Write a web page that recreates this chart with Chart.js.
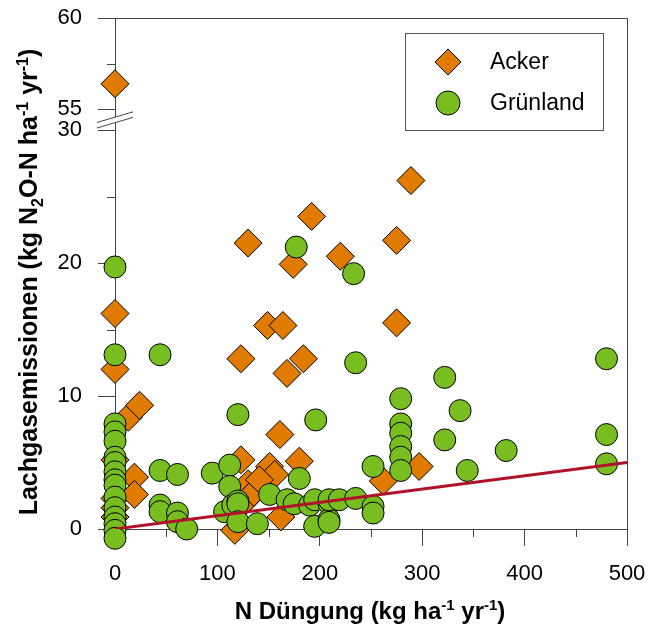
<!DOCTYPE html>
<html>
<head>
<meta charset="utf-8">
<script src="https://cdn.jsdelivr.net/npm/chart.js@4.4.0/dist/chart.umd.min.js"></script>
<style>
    html, body { margin: 0; padding: 0; background: #ffffff; }
</style>
</head>
<body>
<canvas id="lachgasChart" width="652" height="628"></canvas>
<script>
// Acker (Rauten), unterer Achsenabschnitt 0-30
const ackerX = [0, 0, 0, 0, 0, 0, 13, 24, 19, 19,
    130, 192, 174, 220, 275, 289,
    149, 164, 275, 123, 184, 168,
    161, 123, 180, 151, 156, 130, 135, 141, 162, 117, 297, 262, 131, 122];
const ackerY = [16.2, 12.0, 5.2, 2.3, 1.6, 0.9, 8.4, 9.3, 3.9, 2.6,
    21.5, 23.5, 19.9, 20.5, 21.7, 26.2,
    15.3, 15.3, 15.5, 12.8, 12.8, 11.7,
    7.1, 5.2, 5.1, 4.7, 4.1, 3.4, 2.7, 3.7, 0.9, -0.1, 4.7, 3.6, 2.4, 1.7];

// Acker, oberer Achsenabschnitt 55-60
const ackerObenX = [0];
const ackerObenY = [56.4];

// Grünland (Kreise)
const gruenlandX = [0, 0, 0, 0, 0, 0, 0, 0, 0, 0, 0, 0, 0, 0, 0, 0,
    44, 44, 44, 44, 61, 61, 61, 70, 95, 107, 112, 112, 115,
    120, 120, 120, 120, 139, 151, 168, 175, 177, 180, 190, 195, 195, 196,
    209, 209, 209, 209, 219, 233, 235, 235, 252, 252, 252,
    279, 279, 279, 279, 279, 279, 322, 322, 337, 344, 382, 480, 480, 480];
const gruenlandY = [19.7, 13.1, 7.9, 7.3, 6.6, 5.4, 5.0, 4.3, 3.7, 3.3, 2.4, 1.6, 0.9, 0.4, -0.1, -0.7,
    13.1, 4.4, 1.8, 1.3, 4.1, 1.2, 0.55, 0.0, 4.2, 1.3, 4.8, 3.2, 1.8,
    8.6, 2.1, 1.9, 0.55, 0.4, 2.6, 2.2, 1.9, 21.2, 3.8, 1.8, 2.2, 0.2, 8.2,
    1.9, 0.7, 0.5, 2.2, 2.2, 19.2, 12.5, 2.3, 4.7, 1.7, 1.2,
    9.8, 7.9, 7.2, 6.2, 5.4, 4.4, 11.4, 6.7, 8.9, 4.4, 5.9, 12.8, 7.1, 4.9];

// Regressionsgerade
const trendX = [0, 500];
const trendY = [0, 5];

// Achsenbeschriftung
const xTicks = [0, 100, 200, 300, 400, 500];
const xMinorTicks = [50, 150, 250, 350, 450];
const yTicksUnten = [0, 10, 20, 30];
const yMinorUnten = [5, 15, 25];
const yTicksOben = [55, 60];
const yMinorOben = [57.5];

const farbeAcker = '#e07b00';
const farbeGruen = '#78be20';
const farbeTrend = '#b0122a';
const farbeAchse = '#444444';
const schrift = "'Liberation Sans', Arial, sans-serif";

const punkte = (xs, ys) => xs.map((x, i) => ({ x: x, y: ys[i] }));

// Skalen sollen den Plotbereich nicht zusätzlich einrücken
function ohnePadding(s) {
    s.paddingTop = 0;
    s.paddingBottom = 0;
    s.paddingLeft = 0;
    s.paddingRight = 0;
}

// Text mit Hoch-/Tiefstellung zeichnen
function zeichneText(ctx, teile, x, y, groesse) {
    const klein = Math.round(groesse * 0.62);
    let breite = 0;
    teile.forEach(t => {
        ctx.font = 'bold ' + (t[1] ? klein : groesse) + 'px ' + schrift;
        breite += ctx.measureText(t[0]).width;
    });
    let pos = x - breite / 2;
    teile.forEach(t => {
        ctx.font = 'bold ' + (t[1] ? klein : groesse) + 'px ' + schrift;
        let dy = 0;
        if (t[1] === 'sup') dy = -groesse * 0.38;
        if (t[1] === 'sub') dy = groesse * 0.22;
        ctx.fillText(t[0], pos, y + dy);
        pos += ctx.measureText(t[0]).width;
    });
}

const extrasPlugin = {
    id: 'extras',
    beforeDatasetsDraw(chart) {
        const { ctx, chartArea: a } = chart;
        const sx = chart.scales.x, sy = chart.scales.y, sy2 = chart.scales.y2;
        ctx.save();
        ctx.strokeStyle = farbeAchse;
        ctx.lineWidth = 1;
        // Rahmen oben und rechts
        ctx.beginPath();
        ctx.moveTo(a.left, Math.round(a.top) + 0.5);
        ctx.lineTo(Math.round(a.right) + 0.5, Math.round(a.top) + 0.5);
        ctx.lineTo(Math.round(a.right) + 0.5, a.bottom);
        ctx.stroke();
        // kleine Striche
        ctx.beginPath();
        xMinorTicks.forEach(v => {
            const px = Math.round(sx.getPixelForValue(v)) + 0.5;
            ctx.moveTo(px, a.bottom);
            ctx.lineTo(px, a.bottom + 8);
        });
        yMinorUnten.forEach(v => {
            const py = Math.round(sy.getPixelForValue(v)) + 0.5;
            ctx.moveTo(a.left, py);
            ctx.lineTo(a.left - 8, py);
        });
        yMinorOben.forEach(v => {
            const py = Math.round(sy2.getPixelForValue(v)) + 0.5;
            ctx.moveTo(a.left, py);
            ctx.lineTo(a.left - 8, py);
        });
        ctx.stroke();

        // Achsenbruch
        const mitte = (sy.getPixelForValue(30) + sy2.getPixelForValue(55)) / 2;
        const x1 = a.left - 18, x2 = a.left + 18;
        ctx.fillStyle = '#ffffff';
        ctx.beginPath();
        ctx.moveTo(x1, mitte + 3 + 5.3);
        ctx.lineTo(x2, mitte + 3 - 5.3);
        ctx.lineTo(x2, mitte - 2.5 - 5.3);
        ctx.lineTo(x1, mitte - 2.5 + 5.3);
        ctx.closePath();
        ctx.fill();
        ctx.beginPath();
        ctx.moveTo(x1, mitte - 2.5 + 5.3);
        ctx.lineTo(x2, mitte - 2.5 - 5.3);
        ctx.moveTo(x1, mitte + 3 + 5.3);
        ctx.lineTo(x2, mitte + 3 - 5.3);
        ctx.stroke();
        ctx.restore();
    },
    afterDraw(chart) {
        const { ctx, chartArea: a } = chart;
        ctx.save();
        ctx.fillStyle = '#000000';
        ctx.textBaseline = 'alphabetic';

        // x-Achsentitel
        zeichneText(ctx, [['N Düngung (kg ha'], ['-1', 'sup'], [' yr'], ['-1', 'sup'], [')']],
            (a.left + a.right) / 2 - 1, 619, 24);

        // y-Achsentitel
        ctx.save();
        ctx.translate(37, 282);
        ctx.rotate(-Math.PI / 2);
        zeichneText(ctx, [['Lachgasemissionen (kg N'], ['2', 'sub'], ['O-N ha'], ['-1', 'sup'], [' yr'], ['-1', 'sup'], [')']],
            0, 0, 25);
        ctx.restore();

        // Legende
        const lx = 405, ly = 33, lw = 198, lh = 97;
        ctx.strokeStyle = '#555555';
        ctx.lineWidth = 1;
        ctx.fillStyle = '#ffffff';
        ctx.fillRect(lx + 0.5, ly + 0.5, lw, lh);
        ctx.strokeRect(lx + 0.5, ly + 0.5, lw, lh);
        const eintraege = [chart.data.datasets[2], chart.data.datasets[1]];
        eintraege.forEach((ds, i) => {
            const mx = lx + 43, my = ly + 29 + i * 41;
            ctx.fillStyle = ds.backgroundColor;
            ctx.strokeStyle = '#000000';
            ctx.lineWidth = 1;
            ctx.beginPath();
            if (ds.pointStyle === 'rectRot') {
                const r = 13;
                ctx.moveTo(mx, my - r);
                ctx.lineTo(mx + r, my);
                ctx.lineTo(mx, my + r);
                ctx.lineTo(mx - r, my);
                ctx.closePath();
            } else {
                ctx.arc(mx, my, 12, 0, Math.PI * 2);
            }
            ctx.fill();
            ctx.stroke();
            ctx.fillStyle = '#000000';
            ctx.font = '23px ' + schrift;
            ctx.textBaseline = 'middle';
            ctx.fillText(ds.label, lx + 85, my + 1);
        });
        ctx.restore();
    }
};

const ctx = document.getElementById('lachgasChart').getContext('2d');
new Chart(ctx, {
    type: 'scatter',
    data: {
        datasets: [{
            type: 'line',
            label: 'Trend',
            data: punkte(trendX, trendY),
            borderColor: farbeTrend,
            borderWidth: 3,
            pointRadius: 0,
            fill: false,
            order: 0,
            xAxisID: 'x',
            yAxisID: 'y'
        }, {
            label: 'Grünland',
            data: punkte(gruenlandX, gruenlandY),
            backgroundColor: farbeGruen,
            borderColor: '#000000',
            borderWidth: 1,
            pointStyle: 'circle',
            pointRadius: 11,
            clip: false,
            order: 1,
            yAxisID: 'y'
        }, {
            label: 'Acker',
            data: punkte(ackerX, ackerY),
            backgroundColor: farbeAcker,
            borderColor: '#000000',
            borderWidth: 1,
            pointStyle: 'rectRot',
            pointRadius: 14,
            clip: false,
            order: 2,
            yAxisID: 'y'
        }, {
            label: 'Acker',
            data: punkte(ackerObenX, ackerObenY),
            backgroundColor: farbeAcker,
            borderColor: '#000000',
            borderWidth: 1,
            pointStyle: 'rectRot',
            pointRadius: 14,
            clip: false,
            order: 2,
            yAxisID: 'y2'
        }]
    },
    options: {
        responsive: false,
        animation: false,
        layout: { padding: { left: 0, top: 18, right: 25, bottom: 0 } },
        plugins: {
            legend: { display: false },
            tooltip: { enabled: false }
        },
        scales: {
            x: {
                type: 'linear',
                position: 'bottom',
                min: 0,
                max: 500,
                afterFit: s => { s.height = 99; ohnePadding(s); },
                afterBuildTicks: s => { s.ticks = xTicks.map(v => ({ value: v })); },
                grid: { drawOnChartArea: false, tickLength: 17, tickColor: farbeAchse, tickWidth: 1 },
                border: { color: farbeAchse, width: 1 },
                ticks: { color: '#000000', font: { family: schrift, size: 22 }, padding: 15, maxRotation: 0 }
            },
            y: {
                type: 'linear',
                position: 'left',
                stack: 'bruch',
                stackWeight: 399,
                min: 0,
                max: 30,
                afterFit: s => { s.width = 115; ohnePadding(s); },
                afterBuildTicks: s => { s.ticks = yTicksUnten.map(v => ({ value: v })); },
                grid: { drawOnChartArea: false, tickLength: 17, tickColor: farbeAchse, tickWidth: 1 },
                border: { color: farbeAchse, width: 1 },
                ticks: { color: '#000000', font: { family: schrift, size: 22 }, padding: 16 }
            },
            y2: {
                type: 'linear',
                position: 'left',
                stack: 'bruch',
                stackWeight: 112,
                min: 53.87,
                max: 60,
                afterFit: s => { s.width = 115; ohnePadding(s); },
                afterBuildTicks: s => { s.ticks = yTicksOben.map(v => ({ value: v })); },
                grid: { drawOnChartArea: false, tickLength: 17, tickColor: farbeAchse, tickWidth: 1 },
                border: { color: farbeAchse, width: 1 },
                ticks: { color: '#000000', font: { family: schrift, size: 22 }, padding: 16 }
            }
        }
    },
    plugins: [extrasPlugin]
});
</script>
</body>
</html>
